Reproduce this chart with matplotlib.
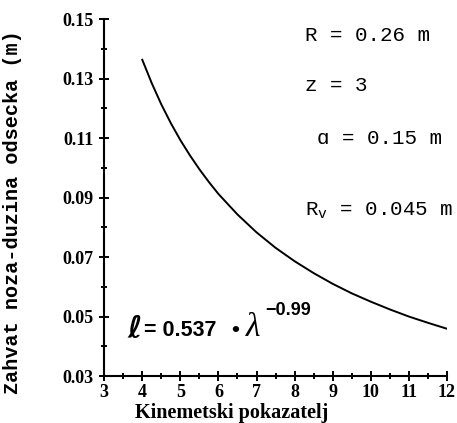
import matplotlib.pyplot as plt
from matplotlib.ticker import MultipleLocator

plt.rcParams['font.family'] = 'Liberation Serif'
plt.rcParams['font.weight'] = 'bold'

# values
lam = [4.0, 4.25, 4.5, 4.75, 5.0, 5.25, 5.5, 5.75, 6.0, 6.5, 7.0, 7.5, 8.0, 8.5,
       9.0, 9.5, 10.0, 10.5, 11.0, 11.5, 12.0]
zahvat = [0.1363, 0.1284, 0.1213, 0.1150, 0.1093, 0.1042, 0.0995, 0.0952, 0.0912,
          0.0843, 0.0783, 0.0731, 0.0686, 0.0646, 0.0610, 0.0578, 0.0550, 0.0524,
          0.0500, 0.0479, 0.0459]
xticks = list(range(3, 13))
yticks = [0.03, 0.05, 0.07, 0.09, 0.11, 0.13, 0.15]

fig = plt.figure(figsize=(4.57, 4.23), dpi=100)
ax = fig.add_axes([0.228, 0.111, 0.75, 0.844])

ax.plot(lam, zahvat, color='black', lw=1.4)

ax.set_xlim(3, 12)
ax.set_ylim(0.03, 0.15)
ax.set_xticks(xticks)
ax.set_yticks(yticks)
ax.set_yticklabels([f'{v:.2f}' for v in yticks])
ax.xaxis.set_minor_locator(MultipleLocator(0.5))
ax.yaxis.set_minor_locator(MultipleLocator(0.01))
ax.tick_params(which='both', direction='inout', width=1.4, color='black', labelsize=13)
ax.tick_params(which='major', length=7)
ax.tick_params(which='minor', length=4)
ax.tick_params(axis='x', pad=2)
ax.tick_params(axis='y', pad=4)

for s in ['top', 'right']:
    ax.spines[s].set_visible(False)
for s in ['left', 'bottom']:
    ax.spines[s].set_linewidth(1.5)

ax.set_xlabel('Kinemetski pokazatelj', fontsize=14.5, fontweight='bold')
ax.xaxis.set_label_coords(0.373, -0.075)
ax.set_ylabel('Zahvat noza-duzina odsecka (m)', family='Liberation Mono',
              fontsize=14.5, fontweight='bold')
ax.yaxis.set_label_coords(-0.24, 0.459)

mono = dict(family='Liberation Mono', fontweight='normal', fontsize=15, va='center', ha='left')
ax.text(8.27, 0.1445, 'R = 0.26 m', **mono)
ax.text(8.27, 0.1275, 'z = 3', **mono)
ax.text(8.6, 0.110, 'ɑ = 0.15 m', **mono)
ax.text(8.27, 0.0855, r'R$_{\mathregular{v}}$ = 0.045 m', **mono)

ax.text(3.6, 0.0452, r'$\boldsymbol{\ell}$', fontsize=22, va='center', ha='left')
ax.text(4.05, 0.0452, '= 0.537', family='Liberation Sans', fontsize=15.5,
        va='center', ha='left')
ax.text(6.33, 0.0452, '\u2022', family='Liberation Sans', fontsize=16,
        va='center', ha='left')
ax.text(6.72, 0.0462, '\u03bb', family='Liberation Serif', fontstyle='italic',
        fontweight='normal', fontsize=24, va='center', ha='left')
ax.text(7.22, 0.0520, '\u22120.99', family='Liberation Sans', fontsize=13,
        va='center', ha='left')

fig.savefig('out.png', dpi=100)
